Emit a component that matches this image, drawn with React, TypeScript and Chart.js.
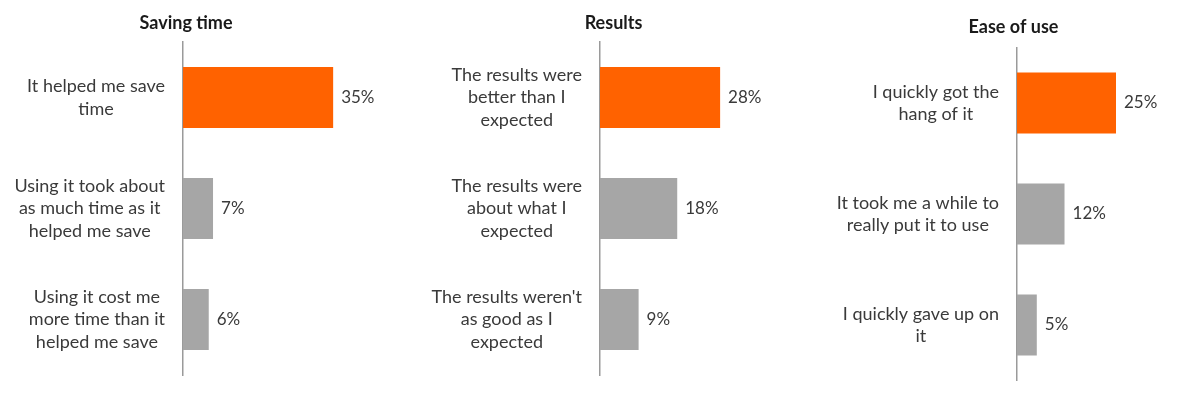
import React, { useEffect, useRef } from "react";
import { Chart, registerables } from "chart.js";

Chart.register(...registerables);

const panelTitles = ["Saving time", "Results", "Ease of use"];

const savingLabels = [
  ["It helped me save", "time"],
  ["Using it took about", "as much time as it", "helped me save"],
  ["Using it cost me", "more time than it", "helped me save"],
];
const savingValues = [35, 7, 6];

const resultsLabels = [
  ["The results were", "better than I", "expected"],
  ["The results were", "about what I", "expected"],
  ["The results weren't", "as good as I", "expected"],
];
const resultsValues = [28, 18, 9];

const easeLabels = [
  ["I quickly got the", "hang of it"],
  ["It took me a while to", "really put it to use"],
  ["I quickly gave up on", "it"],
];
const easeValues = [25, 12, 5];

const ORANGE = "#FF6200";
const GRAY = "#A6A6A6";
const FONT = "Lato, 'Open Sans', sans-serif";

type PanelCfg = {
  title: string;
  labels: string[][];
  values: number[];
  left: number;
  axisWidth: number;
  top: number;
  bottom: number;
  pxPer: number;
  titleX: number;
  titleY: number;
};

const panels: PanelCfg[] = [
  { title: panelTitles[0], labels: savingLabels, values: savingValues, left: 0, axisWidth: 183, top: 42, bottom: 375, pxPer: 4.29, titleX: 186, titleY: 23 },
  { title: panelTitles[1], labels: resultsLabels, values: resultsValues, left: 400, axisWidth: 200, top: 42, bottom: 375, pxPer: 4.29, titleX: 213.5, titleY: 23 },
  { title: panelTitles[2], labels: easeLabels, values: easeValues, left: 800, axisWidth: 217, top: 47.5, bottom: 380.5, pxPer: 3.96, titleX: 213.5, titleY: 27 },
];

const CANVAS_W = 400;
const CANVAS_H = 400;
const X_MAX = 40;

function Panel({ cfg }: { cfg: PanelCfg }) {
  const ref = useRef<HTMLCanvasElement | null>(null);
  useEffect(() => {
    if (!ref.current) return;
    const padRight = CANVAS_W - cfg.axisWidth - cfg.pxPer * X_MAX;
    const textPlugin = {
      id: "panelText",
      afterDraw(chart: any) {
        const ctx = chart.ctx;
        const yScale = chart.scales.y;
        const axisX = chart.chartArea.left;
        ctx.save();
        // title
        ctx.font = `bold 18px ${FONT}`;
        ctx.fillStyle = "#1a1a1a";
        ctx.textAlign = "center";
        ctx.textBaseline = "middle";
        ctx.fillText(cfg.title, cfg.titleX, cfg.titleY);
        // category labels
        ctx.font = `18px ${FONT}`;
        ctx.fillStyle = "#3a3a3a";
        const lh = 22.5;
        const rightEdge = axisX - 18;
        cfg.labels.forEach((lines, i) => {
          const y = yScale.getPixelForTick(i);
          let widest = 0;
          lines.forEach((l) => {
            widest = Math.max(widest, ctx.measureText(l).width);
          });
          const cx = rightEdge - widest / 2;
          const y0 = y - ((lines.length - 1) * lh) / 2;
          lines.forEach((l, k) => ctx.fillText(l, cx, y0 + k * lh));
        });
        // value labels
        ctx.font = `17px ${FONT}`;
        ctx.textAlign = "left";
        const meta = chart.getDatasetMeta(0);
        meta.data.forEach((bar: any, i: number) => {
          ctx.fillText(cfg.values[i] + "%", bar.x + 8, bar.y);
        });
        ctx.restore();
      },
    };
    const chart = new Chart(ref.current, {
      type: "bar",
      data: {
        labels: cfg.labels.map((l) => l.join(" ")),
        datasets: [
          {
            data: cfg.values,
            backgroundColor: cfg.values.map((_, i) => (i === 0 ? ORANGE : GRAY)),
            barPercentage: 0.55,
            categoryPercentage: 1,
            borderWidth: 0,
          },
        ],
      },
      options: {
        indexAxis: "y",
        animation: false,
        responsive: false,
        maintainAspectRatio: false,
        layout: {
          padding: { left: 0, right: padRight, top: cfg.top, bottom: CANVAS_H - cfg.bottom },
        },
        plugins: {
          legend: { display: false },
          tooltip: { enabled: false },
          title: { display: false },
        },
        scales: {
          x: { display: false, min: 0, max: X_MAX },
          y: {
            display: true,
            grid: { display: false, drawTicks: false },
            border: { display: true, color: "#9a9a9a", width: 1.5 },
            ticks: { display: false },
            afterFit: (scale: any) => {
              scale.width = cfg.axisWidth;
            },
          },
        },
      },
      plugins: [textPlugin],
    });
    return () => chart.destroy();
  }, [cfg]);
  return (
    <canvas
      ref={ref}
      width={CANVAS_W}
      height={CANVAS_H}
      style={{ position: "absolute", left: cfg.left, top: 0, width: CANVAS_W, height: CANVAS_H }}
    />
  );
}

export default function App() {
  useEffect(() => {
    document.body.style.margin = "0";
  }, []);
  return (
    <div style={{ position: "relative", width: 1200, height: 400, background: "#ffffff" }}>
      {panels.map((p, i) => (
        <Panel key={i} cfg={p} />
      ))}
    </div>
  );
}
